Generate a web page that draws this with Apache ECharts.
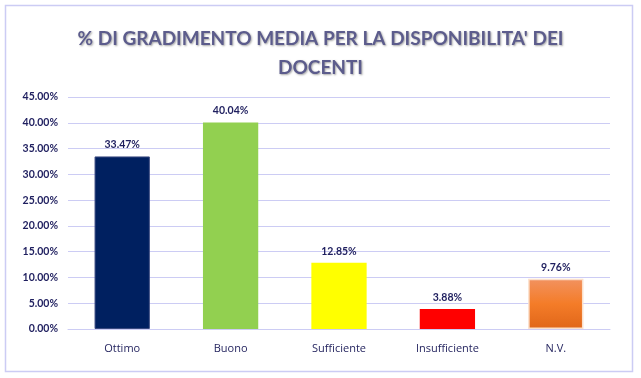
<!DOCTYPE html>
<html><head><meta charset="utf-8">
<script src="https://cdn.jsdelivr.net/npm/echarts@6/dist/echarts.min.js"></script>
<style>html,body{margin:0;padding:0;background:#fff}#c{width:641px;height:378px}</style>
</head><body><div id="c"></div>
<script>
var categories = ['Ottimo','Buono','Sufficiente','Insufficiente','N.V.'];
var values = [33.47, 40.04, 12.85, 3.88, 9.76];
var yTicks = [0,5,10,15,20,25,30,35,40,45];
var titleText = "% DI GRADIMENTO MEDIA PER LA DISPONIBILITA' DEI\nDOCENTI";

var colors = [
  '#002060',
  '#92d050',
  '#ffff00',
  '#ff0000',
  new echarts.graphic.LinearGradient(0,0,0,1,[{offset:0,color:'#f29260'},{offset:0.5,color:'#f47c28'},{offset:1,color:'#e0661a'}])
];
var chart = echarts.init(document.getElementById('c'));
chart.setOption({
  backgroundColor:'#fff',
  graphic:[{type:'rect',shape:{x:5.5,y:5.5,width:627,height:366},style:{fill:'none',stroke:'#ccccf4',lineWidth:1.5},silent:true}],
  title:{text:titleText,left:'center',top:19,textStyle:{fontFamily:'Lato',fontWeight:'bold',fontSize:19,color:'#5c5c8c',lineHeight:29,textShadowColor:'rgba(0,0,0,0.35)',textShadowOffsetX:1,textShadowOffsetY:1,textShadowBlur:2}},
  grid:{left:68,right:31,top:97,bottom:49},
  xAxis:{type:'category',data:categories,axisLine:{show:true,lineStyle:{color:'#ccccf4'}},axisTick:{show:false},
    axisLabel:{color:'#262660',fontFamily:'Open Sans',fontSize:11,margin:14}},
  yAxis:{type:'value',min:0,max:45,interval:5,axisLine:{show:false},axisTick:{show:false},
    splitLine:{lineStyle:{color:'#ccccf4',width:1}},
    axisLabel:{color:'#1f1f5f',fontFamily:'Lato',fontWeight:'bold',fontSize:10.5,margin:10,formatter:function(v){return v.toFixed(2)+'%';}}},
  series:[{type:'bar',barWidth:'51%',
    data:values.map(function(v,i){return {value:v,itemStyle:{color:colors[i],borderColor:i===4?'#fbe0cc':(i===0?'#3a4a80':'transparent'),borderWidth:i===4?1.5:(i===0?1:0)}};}),
    label:{show:true,position:'top',distance:6,color:'#1f1f5f',fontFamily:'Lato',fontWeight:'bold',fontSize:10.5,formatter:function(p){return p.value.toFixed(2)+'%';}}
  }]
});
</script></body></html>
